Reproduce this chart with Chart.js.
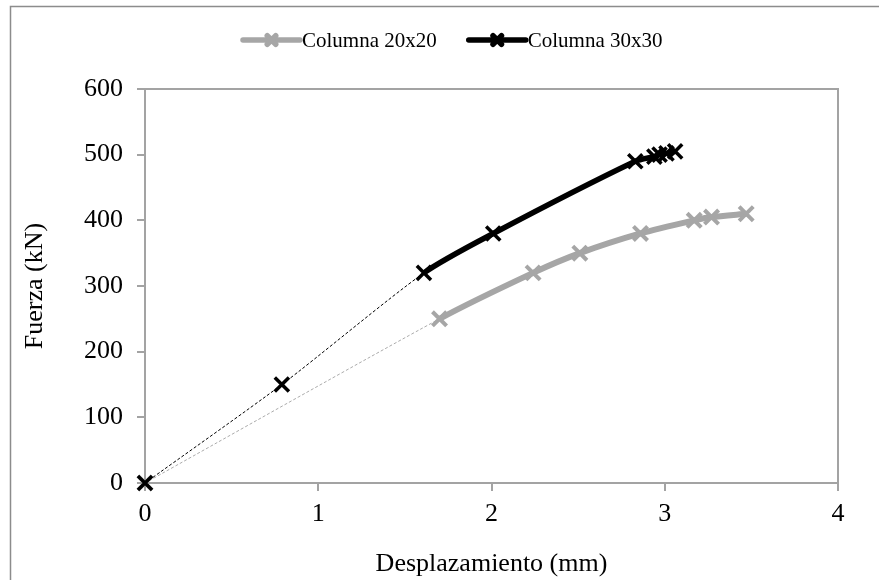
<!DOCTYPE html>
<html>
<head>
<meta charset="utf-8">
<script src="https://cdn.jsdelivr.net/npm/chart.js@4/dist/chart.umd.min.js"></script>
<style>
  html, body { margin: 0; padding: 0; background: #fff; }
  #wrap { width: 879px; height: 580px; position: relative; }
</style>
</head>
<body>
<div id="wrap"><canvas id="myChart" width="879" height="580"></canvas></div>
<script>
// Column 20x20 (gray)
var dispCol20 = [0, 1.70, 2.24, 2.51, 2.86, 3.17, 3.27, 3.47];
var forceCol20 = [0, 250, 320, 350, 380, 400, 405, 410];
// Column 30x30 (black)
var dispCol30 = [0, 0.79, 1.61, 2.01, 2.83, 2.94, 2.97, 3.01, 3.06];
var forceCol30 = [0, 150, 320, 380, 490, 497, 500, 502, 505];
// index of the first point of the solid (measured) part
var solidFrom20 = 1;
var solidFrom30 = 2;

var seriesNames = ['Columna 20x20', 'Columna 30x30'];
var xTicks = [0, 1, 2, 3, 4];
var yTicks = [0, 100, 200, 300, 400, 500, 600];

var serif = '"Liberation Serif", "Times New Roman", serif';
var axisGray = '#A3A3A3';

function toPoints(xs, ys) {
    var pts = [];
    for (var i = 0; i < xs.length; i++) pts.push({x: xs[i], y: ys[i]});
    return pts;
}

function seriesSegment(solidFrom, dashColor) {
    return {
        borderWidth: function (ctx) { return ctx.p1DataIndex <= solidFrom ? 1 : undefined; },
        borderDash: function (ctx) { return ctx.p1DataIndex <= solidFrom ? [3, 2] : undefined; },
        borderColor: function (ctx) { return ctx.p1DataIndex <= solidFrom ? dashColor : undefined; }
    };
}

// page frame + top/right edges of the plot area
var framePlugin = {
    id: 'frame',
    beforeDraw: function (chart) {
        var ctx = chart.ctx;
        ctx.save();
        ctx.strokeStyle = '#8C8C8C';
        ctx.lineWidth = 1.5;
        ctx.beginPath();
        ctx.moveTo(10.5, 580);
        ctx.lineTo(10.5, 6.5);
        ctx.lineTo(879, 6.5);
        ctx.stroke();
        ctx.restore();
    },
    beforeDatasetsDraw: function (chart) {
        var a = chart.chartArea, ctx = chart.ctx;
        ctx.save();
        ctx.strokeStyle = axisGray;
        ctx.lineWidth = 2;
        ctx.beginPath();
        ctx.moveTo(a.left, a.top);
        ctx.lineTo(a.right, a.top);
        ctx.lineTo(a.right, a.bottom);
        ctx.stroke();
        ctx.restore();
    }
};

// legend drawn as line + marker + label, like the spreadsheet legend
var lineLegendPlugin = {
    id: 'lineLegend',
    afterDraw: function (chart) {
        var ctx = chart.ctx;
        var y = 40;
        var x = 243;
        ctx.save();
        ctx.font = '21px ' + serif;
        ctx.textBaseline = 'middle';
        chart.data.datasets.forEach(function (ds) {
            var sample = 57;
            ctx.strokeStyle = ds.borderColor;
            ctx.lineWidth = 5.5;
            ctx.lineCap = 'round';
            ctx.setLineDash([]);
            ctx.beginPath();
            ctx.moveTo(x, y);
            ctx.lineTo(x + sample, y);
            ctx.stroke();
            Chart.helpers.drawPoint(ctx, {
                pointStyle: 'crossRot', radius: 6, rotation: 0, borderWidth: 3
            }, x + sample / 2, y);
            ctx.fillStyle = '#000';
            ctx.fillText(ds.label, x + sample + 2, y + 1);
            x += sample + 2 + ctx.measureText(ds.label).width + 32;
        });
        ctx.restore();
    }
};

var ctx = document.getElementById('myChart').getContext('2d');
var myChart = new Chart(ctx, {
    type: 'line',
    data: {
        datasets: [{
            label: seriesNames[0],
            data: toPoints(dispCol20, forceCol20),
            order: 1,
            borderColor: '#A6A6A6',
            backgroundColor: '#A6A6A6',
            borderWidth: 6,
            tension: 0.25,
            pointStyle: 'crossRot',
            pointRadius: 10,
            pointBorderWidth: 4,
            pointBorderColor: '#A6A6A6',
            segment: seriesSegment(solidFrom20, '#ABABAB'),
            clip: false
        }, {
            label: seriesNames[1],
            data: toPoints(dispCol30, forceCol30),
            order: 0,
            borderColor: '#000000',
            backgroundColor: '#000000',
            borderWidth: 5.5,
            tension: 0.25,
            pointStyle: 'crossRot',
            pointRadius: 10,
            pointBorderWidth: 3.5,
            pointBorderColor: '#000000',
            segment: seriesSegment(solidFrom30, '#000000'),
            clip: false
        }]
    },
    options: {
        responsive: false,
        animation: false,
        layout: { padding: { top: 89, right: 41, bottom: 0, left: 0 } },
        plugins: {
            legend: { display: false },
            tooltip: { enabled: false }
        },
        scales: {
            x: {
                type: 'linear',
                min: 0,
                max: 4,
                afterBuildTicks: function (scale) {
                    scale.ticks = xTicks.map(function (v) { return {value: v}; });
                },
                afterFit: function (scale) { scale.height = 97; },
                grid: { drawOnChartArea: false, color: axisGray, lineWidth: 2, tickLength: 8 },
                border: { color: axisGray, width: 2 },
                ticks: { color: '#000', padding: 8, font: { family: serif, size: 26 } },
                title: {
                    display: true,
                    text: 'Desplazamiento (mm)',
                    color: '#000',
                    padding: { top: 0, bottom: 0 },
                    font: { family: serif, size: 26 }
                }
            },
            y: {
                type: 'linear',
                min: 0,
                max: 600,
                afterBuildTicks: function (scale) {
                    scale.ticks = yTicks.map(function (v) { return {value: v}; });
                },
                afterFit: function (scale) { scale.width = 145; },
                grid: { drawOnChartArea: false, color: axisGray, lineWidth: 2, tickLength: 8 },
                border: { color: axisGray, width: 2 },
                ticks: { color: '#000', padding: 14, font: { family: serif, size: 26 } },
                title: {
                    display: true,
                    text: 'Fuerza (kN)',
                    color: '#000',
                    padding: { top: 20, bottom: 0 },
                    font: { family: serif, size: 26 }
                }
            }
        }
    },
    plugins: [framePlugin, lineLegendPlugin]
});
</script>
</body>
</html>
